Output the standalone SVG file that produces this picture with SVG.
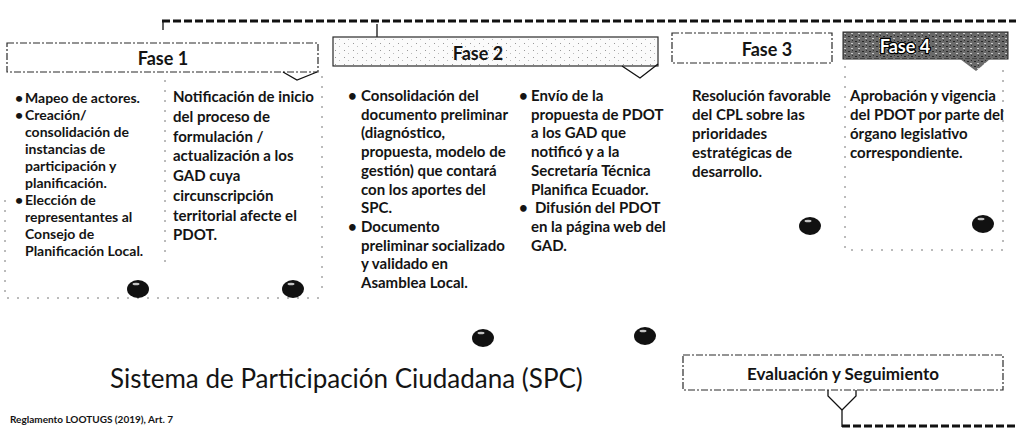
<svg xmlns="http://www.w3.org/2000/svg" width="1016" height="429" viewBox="0 0 1016 429">
<style>
.t{font-family:Lato,"Open Sans","Liberation Sans",sans-serif;font-weight:700;font-size:15px;fill:#141414}
.s14{font-size:14px}
.h{font-size:18px;text-anchor:middle}
.hb{fill:none;stroke:#2a2a2a;stroke-width:1.2;stroke-dasharray:7 2 2 2}
.faint{fill:none;stroke:#777;stroke-width:1;stroke-dasharray:2 8}
.thick{fill:none;stroke:#111;stroke-width:3;stroke-dasharray:8 3}
.ln{fill:none;stroke:#111;stroke-width:1.3}
.dot{fill:#111}
.hl{fill:#fff;opacity:.75}
</style>
<defs>
<pattern id="tex2" width="9" height="7" patternUnits="userSpaceOnUse">
<rect width="9" height="7" fill="#fbfbfb"/>
<rect x="2" y="1" width="1" height="1" fill="#999"/>
<rect x="6" y="4" width="1" height="1" fill="#bbb"/>
</pattern>
<pattern id="tex4" width="7" height="5" patternUnits="userSpaceOnUse">
<rect width="7" height="5" fill="#6a6a6a"/>
<rect x="1" y="1" width="2" height="1" fill="#262626"/>
<rect x="4" y="3" width="2" height="1" fill="#c8c8c8"/>
<rect x="5" y="0" width="1" height="1" fill="#333"/>
</pattern>
<g id="dotshape">
<ellipse cx="0" cy="0" rx="11" ry="9" class="dot"/>
<ellipse cx="-2" cy="-5" rx="3.5" ry="1.3" class="hl"/>
</g>
</defs>

<g id="connectors">
<path class="thick" d="M162 21 H1016"/>
<path class="ln" stroke-width="2" d="M163 21 V30"/>
<path class="ln" d="M377 24 V38"/>
<path class="ln" d="M828 390 V396 L842 410 M856 390 V396 L842 410"/>
<path class="ln" stroke-width="3" d="M842 409 V427"/>
<path class="thick" d="M842 426 H1016"/>
</g>

<g id="fase1">
<rect class="hb" x="7" y="43" width="311" height="29"/>
<path class="ln" d="M283 72 L297 80 L317 72"/>
<text class="t h" x="163" y="65">Fase 1</text>
<path class="faint" d="M5 200 V298 H325 M165 80 V262 M322 76 V296"/>
<text class="t s14">
<tspan x="15" y="103">•</tspan><tspan x="25">Mapeo de actores.</tspan>
<tspan x="15" y="120">•</tspan><tspan x="25">Creación/</tspan>
<tspan x="25" y="137">consolidación de</tspan>
<tspan x="25" y="154">instancias de</tspan>
<tspan x="25" y="171">participación y</tspan>
<tspan x="25" y="188">planificación.</tspan>
<tspan x="15" y="205">•</tspan><tspan x="25">Elección de</tspan>
<tspan x="25" y="222">representantes al</tspan>
<tspan x="25" y="239">Consejo de</tspan>
<tspan x="25" y="256">Planificación Local.</tspan>
</text>
<text class="t">
<tspan x="173" y="102">Notificación de inicio</tspan>
<tspan x="173" y="122">del proceso de</tspan>
<tspan x="173" y="142">formulación /</tspan>
<tspan x="173" y="161">actualización a los</tspan>
<tspan x="173" y="181">GAD cuya</tspan>
<tspan x="173" y="201">circunscripción</tspan>
<tspan x="173" y="221">territorial afecte el</tspan>
<tspan x="173" y="240">PDOT.</tspan>
</text>
<use href="#dotshape" x="138" y="289"/>
<use href="#dotshape" x="293" y="289"/>
</g>

<g id="fase2">
<rect x="333" y="37" width="325" height="29" fill="url(#tex2)" stroke="#2a2a2a" stroke-width="1.2"/>
<path class="ln" d="M622 66 L640 78 L658 64"/>
<text class="t h" x="478" y="60">Fase 2</text>
<text class="t">
<tspan x="348" y="101">•</tspan><tspan x="361">Consolidación del</tspan>
<tspan x="361" y="119.7">documento preliminar</tspan>
<tspan x="361" y="138.4">(diagnóstico,</tspan>
<tspan x="361" y="157.1">propuesta, modelo de</tspan>
<tspan x="361" y="175.8">gestión) que contará</tspan>
<tspan x="361" y="194.5">con los aportes del</tspan>
<tspan x="361" y="213.2">SPC.</tspan>
<tspan x="348" y="231.9">•</tspan><tspan x="361">Documento</tspan>
<tspan x="361" y="250.6">preliminar socializado</tspan>
<tspan x="361" y="269.3">y validado en</tspan>
<tspan x="361" y="288">Asamblea Local.</tspan>
</text>
<text class="t">
<tspan x="519" y="101">•</tspan><tspan x="531">Envío de la</tspan>
<tspan x="531" y="119.7">propuesta de PDOT</tspan>
<tspan x="531" y="138.4">a los GAD que</tspan>
<tspan x="531" y="157.1">notificó y a la</tspan>
<tspan x="531" y="175.8">Secretaría Técnica</tspan>
<tspan x="531" y="194.5">Planifica Ecuador.</tspan>
<tspan x="519" y="213.2">•</tspan><tspan x="535">Difusión del PDOT</tspan>
<tspan x="531" y="231.9">en la página web del</tspan>
<tspan x="531" y="250.6">GAD.</tspan>
</text>
<use href="#dotshape" x="483" y="338"/>
<use href="#dotshape" x="645" y="336"/>
</g>

<g id="fase3">
<rect class="hb" x="672" y="33" width="160" height="30"/>
<text class="t h" x="767" y="56">Fase 3</text>
<text class="t">
<tspan x="692" y="101">Resolución favorable</tspan>
<tspan x="692" y="120">del CPL sobre las</tspan>
<tspan x="692" y="139">prioridades</tspan>
<tspan x="692" y="158">estratégicas de</tspan>
<tspan x="692" y="177">desarrollo.</tspan>
</text>
<use href="#dotshape" x="810" y="226"/>
</g>

<g id="fase4">
<rect x="843" y="32" width="165" height="27" fill="url(#tex4)" stroke="#222" stroke-width="1"/>
<polygon points="960,59 990,59 976,71" fill="url(#tex4)"/>
<text class="t h" x="905" y="53" style="fill:#fff;stroke:#000;stroke-width:2.5px;paint-order:stroke">Fase 4</text>
<path class="faint" d="M845 66 V250 H1003 V66"/>
<text class="t">
<tspan x="850" y="101">Aprobación y vigencia</tspan>
<tspan x="850" y="120">del PDOT por parte del</tspan>
<tspan x="850" y="139">órgano legislativo</tspan>
<tspan x="850" y="158">correspondiente.</tspan>
</text>
<use href="#dotshape" x="983" y="224"/>
</g>

<g id="titulo">
<text x="110" y="388" style="font-family:Lato,'Open Sans','Liberation Sans',sans-serif;font-size:26px;fill:#141414">Sistema de Participación Ciudadana (SPC)</text>
</g>

<g id="evaluacion">
<rect class="hb" x="683" y="355" width="320" height="35"/>
<text class="t" x="843" y="380" style="font-size:17px;text-anchor:middle">Evaluación y Seguimiento</text>
</g>

<g id="fuente">
<text class="t" x="10" y="423" style="font-size:10px">Reglamento LOOTUGS (2019), Art. 7</text>
</g>
</svg>
